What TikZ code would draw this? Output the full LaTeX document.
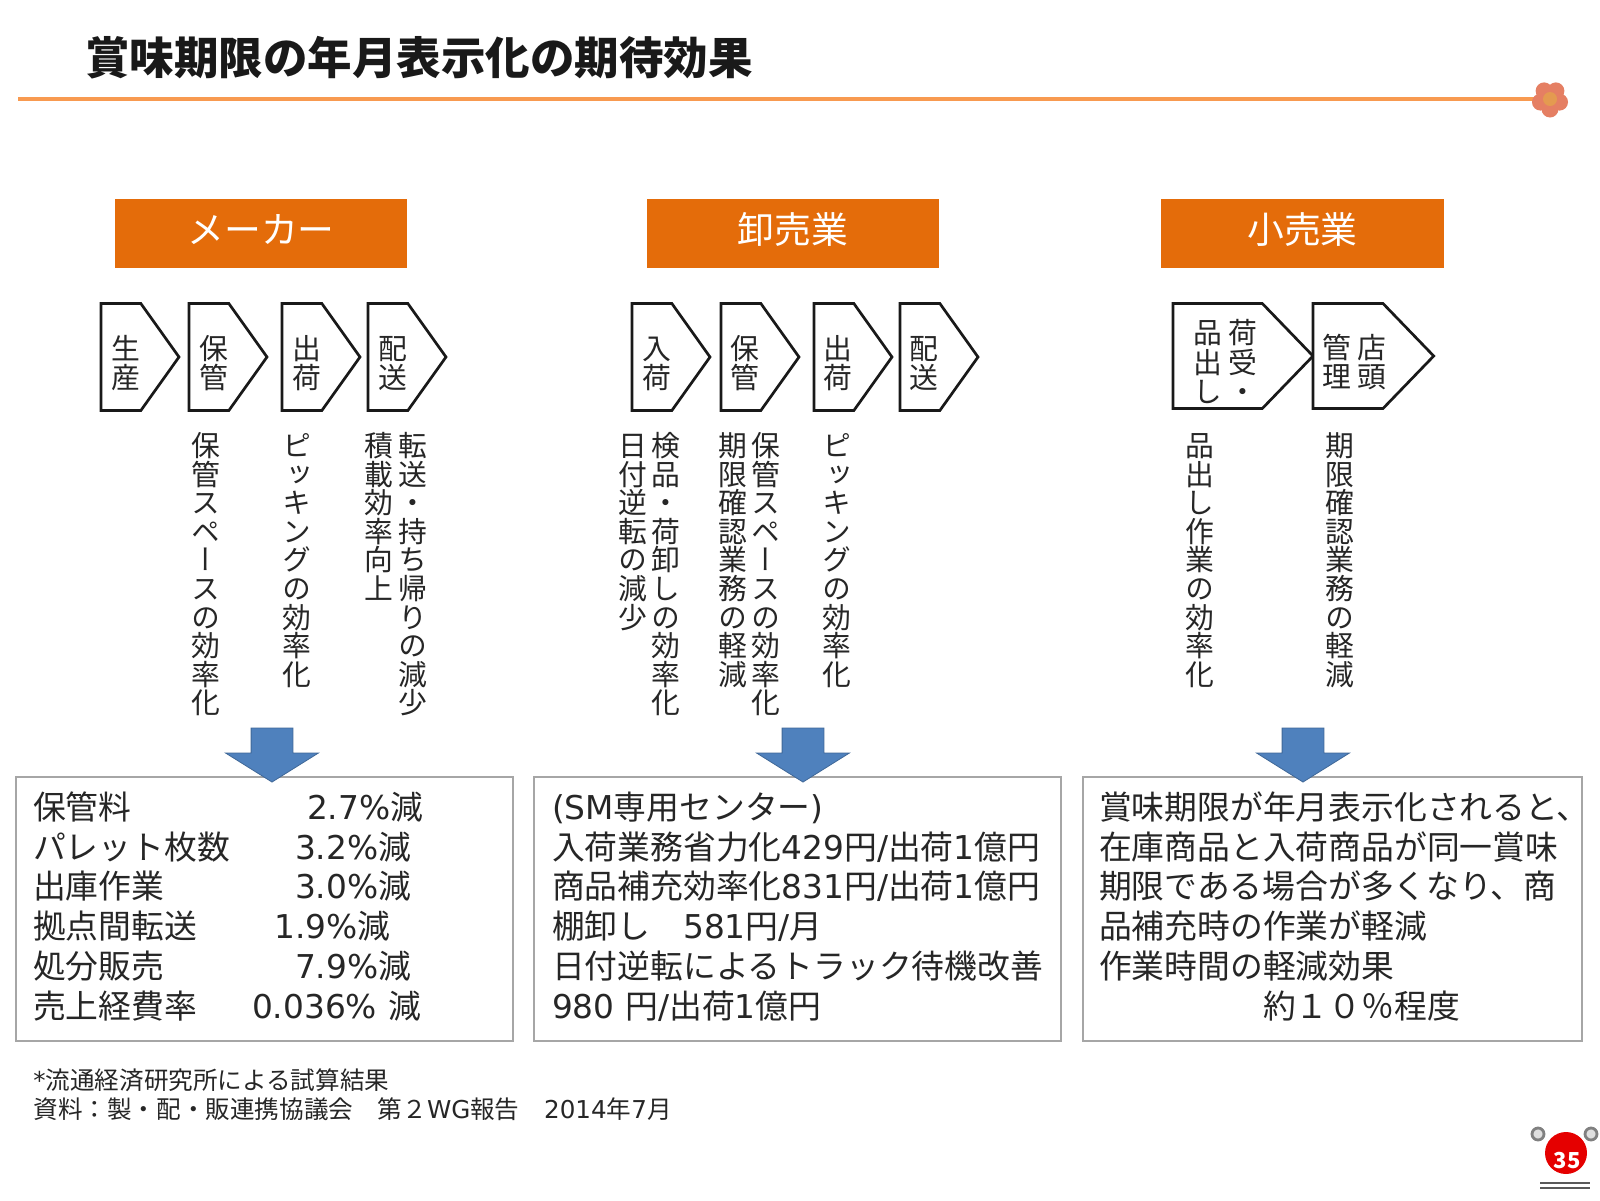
\documentclass[tikz,border=0pt]{standalone}
\usepackage{fontspec}
\setmainfont{Noto Sans CJK JP}
\newfontfamily\vjpfont[RawFeature={+vert}]{Noto Sans CJK JP}
\newfontfamily\ltnfont{DejaVu Sans}
\usepackage{tikz}
\usetikzlibrary{shapes.arrows, shapes.symbols, positioning}

\newdimen\vlead
\makeatletter
\newcommand{\vcol}[1]{\vbox{\vjpfont\offinterlineskip\@tfor\vch:=#1\do{\hbox to 1em{\hss\vrule height .88\vlead depth .12\vlead width 0pt\vch\hss}}}}
\makeatother
\newcommand{\ltn}[1]{{\ltnfont #1}}
\newcommand{\chtext}[2][5pt]{\vbox{\kern6pt\hbox{\kern#1#2}}}
\newcommand{\vrow}[3]{\makebox[#2pt][l]{#1}#3}
\newcommand{\lastline}{\rule[-4pt]{0pt}{1pt}}

\definecolor{hdrorange}{HTML}{E46C0A}
\definecolor{ruleorange}{HTML}{F89A50}
\definecolor{arrowblue}{HTML}{4F81BD}
\definecolor{inkgray}{HTML}{262626}
\definecolor{petal}{HTML}{E57F63}
\definecolor{petalmid}{HTML}{E49A50}

\tikzstyle{hdr} = [rectangle, minimum width=146pt, minimum height=34.5pt, inner sep=0pt, text height=13pt, text depth=3.2pt, fill=hdrorange, text=white, font=\fontsize{18.4}{20}\selectfont]
\tikzstyle{chev} = [signal, signal to=east, signal pointer angle=109, minimum height=53.5pt, minimum width=39pt, inner sep=0pt, outer sep=0pt, draw=black!90, line width=1.35pt, fill=white, text=inkgray, font=\fontsize{14.4}{14}\selectfont]
\tikzstyle{chevwide} = [chev, signal pointer angle=92, minimum height=52.5pt]
\tikzstyle{vlabel} = [anchor=north, inner sep=0pt, text=inkgray, font=\fontsize{14.4}{14}\selectfont]
\tikzstyle{result} = [rectangle, draw=black!35, line width=1pt, fill=white, minimum height=132pt, inner xsep=0pt, align=left, text=inkgray, font=\fontsize{16.4}{19.9}\selectfont]
\tikzstyle{down} = [single arrow, shape border rotate=270, minimum width=46pt, minimum height=27pt, single arrow head extend=12.75pt, single arrow tip angle=116, single arrow head indent=0pt, inner xsep=10.25pt, inner ysep=0pt, fill=arrowblue, draw=arrowblue!80!black, line width=0.4pt]
\tikzstyle{note} = [anchor=west, inner sep=0pt, text=inkgray, font=\fontsize{12.3}{14}\selectfont]
\tikzstyle{pin} = [circle, draw=gray, fill=gray!25, line width=1.4pt, minimum size=6pt, inner sep=0pt]

\begin{document}
\begin{tikzpicture}[x=0.5pt, y=-0.5pt]
\useasboundingbox (0,0) rectangle (1600,1200);

% --- Title ---
\node (title) [anchor=west, inner sep=0pt, font=\fontsize{22.25}{24}\selectfont\bfseries, text=black!90] at (85,58) {賞味期限の年月表示化の期待効果};
\coordinate (ruleL) at (18,99);
\coordinate (flower) at (1550,99);
\draw [ruleorange, line width=1.7pt] (ruleL) -- (flower);
\foreach \a in {18,90,162,234,306}
    \fill [petal] (flower) ++(\a:10) circle (8.5);
\fill [petalmid] (flower) circle (7);

% --- Headers ---
\node (maker) [hdr] at (261,233.5) {メーカー};
\node (whole) [hdr] at (793,233.5) {卸売業};
\node (retail) [hdr, minimum width=141.5pt] at (1302.5,233.5) {小売業};

% --- Maker flow ---
\setlength{\vlead}{14.6pt}
\node (seisan) [chev, anchor=west] at (101,357) {\chtext{\vcol{生産}}};
\node (hokanA) [chev, right=5pt of seisan] {\chtext{\vcol{保管}}};
\node (shukkaA) [chev, right=7.5pt of hokanA] {\chtext{\vcol{出荷}}};
\node (haisoA) [chev, right=4pt of shukkaA] {\chtext{\vcol{配送}}};

% --- Wholesale flow ---
\node (nyuka) [chev, anchor=west] at (632,357) {\chtext{\vcol{入荷}}};
\node (hokanB) [chev, right=5.5pt of nyuka] {\chtext[4pt]{\vcol{保管}}};
\node (shukkaB) [chev, right=7.5pt of hokanB] {\chtext[4pt]{\vcol{出荷}}};
\node (haisoB) [chev, right=4pt of shukkaB] {\chtext[4pt]{\vcol{配送}}};

% --- Retail flow ---
\node (niuke) [chevwide, minimum width=70pt, anchor=west] at (1173,356) {\chtext[8pt]{\vcol{品出し}\hspace{3pt}\vcol{荷受・}}};
\node (tento) [chevwide, minimum width=58.5pt, right=0pt of niuke] {\chtext[4.6pt]{\vcol{管理}\hspace{3pt}\vcol{店頭}\kern-1.4pt}};

% --- Vertical labels ---
\setlength{\vlead}{14.3pt}
\node (a1) [vlabel] at (206,431) {\vcol{保管スペースの効率化}};
\node (a2) [vlabel] at (297,431) {\vcol{ピッキングの効率化}};
\node (a3) [vlabel] at (413,431) {\vcol{転送・持ち帰りの減少}};
\node (a4) [vlabel] at (379,431) {\vcol{積載効率向上}};
\node (b1) [vlabel] at (666,431) {\vcol{検品・荷卸しの効率化}};
\node (b2) [vlabel] at (633,431) {\vcol{日付逆転の減少}};
\node (b3) [vlabel] at (766,431) {\vcol{保管スペースの効率化}};
\node (b4) [vlabel] at (733,431) {\vcol{期限確認業務の軽減}};
\node (b5) [vlabel] at (837,431) {\vcol{ピッキングの効率化}};
\node (c1) [vlabel] at (1200,431) {\vcol{品出し作業の効率化}};
\node (c2) [vlabel] at (1340,431) {\vcol{期限確認業務の軽減}};

% --- Result boxes ---
\node (resA) [result, minimum width=248.5pt, text width=231.5pt] at (264.5,909) {%
\vrow{保管料}{137}{\ltn{2.7\%}減}\\
\vrow{パレット枚数}{131}{\ltn{3.2\%}減}\\
\vrow{出庫作業}{131}{\ltn{3.0\%}減}\\
\vrow{拠点間転送}{120.75}{\ltn{1.9\%}減}\\
\vrow{処分販売}{131}{\ltn{7.9\%}減}\\
\vrow{売上経費率}{109.5}{\ltn{0.036\% }減}\lastline};
\node (resB) [result, minimum width=263.5pt, text width=245.5pt] at (797.5,909) {%
\ltn{(SM}専用センター\ltn{)}\\
入荷業務省力化\ltn{429}円\ltn{/}出荷\ltn{1}億円\\
商品補充効率化\ltn{831}円\ltn{/}出荷\ltn{1}億円\\
棚卸し　\ltn{581}円\ltn{/}月\\
日付逆転によるトラック待機改善\\
\ltn{980 }円\ltn{/}出荷\ltn{1}億円\lastline};
\node (resC) [result, minimum width=249.5pt, text width=233.5pt] at (1332.5,909) {%
賞味期限が年月表示化されると、\\
在庫商品と入荷商品が同一賞味\\
期限である場合が多くなり、商\\
品補充時の作業が軽減\\
作業時間の軽減効果\\
\hspace*{82pt}約１０％程度\lastline};

% --- Block arrows ---
\node (downA) [down] at (272,748.5) {};
\node (downB) [down] at (803,748.5) {};
\node (downC) [down] at (1303,748.5) {};

% --- Notes ---
\node (noteA) [note] at (33,1080) {\ltn{*}流通経済研究所による試算結果};
\node (noteB) [note] at (33,1109) {資料：製・配・販連携協議会　第２\ltn{WG}報告　\ltn{2014}年\ltn{7}月};

% --- Page mark ---
\node (pinL) [pin] at (1538,1134) {};
\node (pinR) [pin] at (1591,1134) {};
\node (badge) [circle, fill=red!90!black, minimum size=21pt, inner sep=0pt] at (1566,1153) {};
\node (pageno) [inner sep=0pt, text=white, font=\fontsize{11}{12}\selectfont\bfseries] at (1567,1160) {35};
\coordinate (barL) at (1540,1183);
\coordinate (barR) at (1590,1183);
\draw [black!65, line width=1.3pt] (barL) -- (barR);
\draw [black!65, line width=1.3pt] ([yshift=-2.5pt]barL) -- ([yshift=-2.5pt]barR);

\end{tikzpicture}
\end{document}
